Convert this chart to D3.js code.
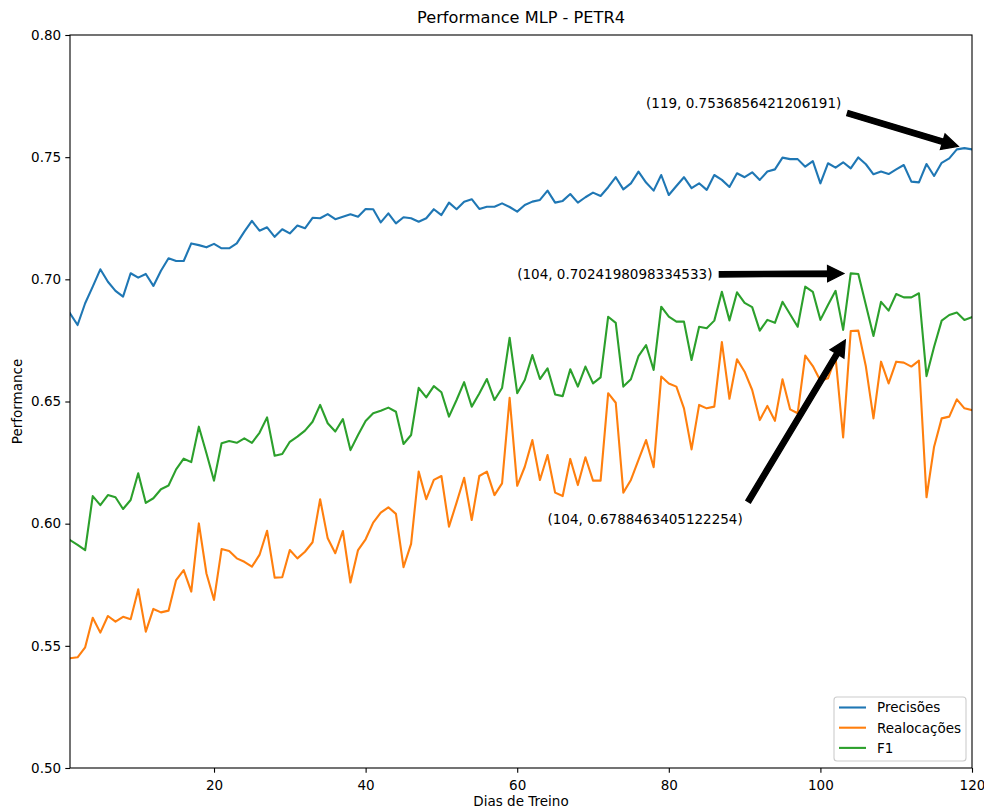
<!DOCTYPE html>
<html>
<head>
<meta charset="utf-8">
<script src="https://cdn.jsdelivr.net/npm/d3@7"></script>
<style>
  html, body { margin: 0; padding: 0; background: #ffffff; }
  svg { display: block; font-family: "DejaVu Sans", sans-serif; }
</style>
</head>
<body>
<svg id="chart" width="984" height="810"></svg>
<script>
// Training days 1..120
const days = d3.range(1, 121);

const precisoes = [
  0.6861, 0.6813, 0.6902, 0.6970, 0.7041, 0.6990, 0.6953, 0.6929, 0.7025, 0.7007,
  0.7022, 0.6973, 0.7035, 0.7086, 0.7075, 0.7075, 0.7147, 0.7140, 0.7131, 0.7145,
  0.7127, 0.7127, 0.7147, 0.7195, 0.7239, 0.7199, 0.7213, 0.7174, 0.7205, 0.7188,
  0.7220, 0.7209, 0.7252, 0.7250, 0.7267, 0.7246, 0.7256, 0.7266, 0.7256, 0.7288,
  0.7287, 0.7233, 0.7270, 0.7229, 0.7254, 0.7250, 0.7236, 0.7250, 0.7287, 0.7263,
  0.7314, 0.7287, 0.7318, 0.7328, 0.7288, 0.7297, 0.7297, 0.7311, 0.7296, 0.7277,
  0.7304, 0.7318, 0.7325, 0.7363, 0.7314, 0.7321, 0.7349, 0.7314, 0.7336, 0.7355,
  0.7341, 0.7377, 0.7418, 0.7368, 0.7393, 0.7441, 0.7396, 0.7363, 0.7427, 0.7345,
  0.7382, 0.7418, 0.7373, 0.7393, 0.7366, 0.7427, 0.7407, 0.7378, 0.7434, 0.7418,
  0.7438, 0.7407, 0.7441, 0.7450, 0.7498, 0.7492, 0.7492, 0.7461, 0.7484, 0.7393,
  0.7475, 0.7457, 0.7479, 0.7454, 0.7499, 0.7471, 0.7430, 0.7441, 0.7431, 0.7450,
  0.7468, 0.7400, 0.7397, 0.7472, 0.7423, 0.7477, 0.7495, 0.7532, 0.7536856421206191, 0.7532
];

const realocacoes = [
  0.5449, 0.5453, 0.5494, 0.5615, 0.5554, 0.5622, 0.5599, 0.5619, 0.5609, 0.5731,
  0.5558, 0.5651, 0.5637, 0.5644, 0.5769, 0.5810, 0.5722, 0.6001, 0.5796, 0.5688,
  0.5896, 0.5888, 0.5858, 0.5844, 0.5824, 0.5872, 0.5971, 0.5779, 0.5781, 0.5892,
  0.5858, 0.5885, 0.5924, 0.6100, 0.5940, 0.5879, 0.5970, 0.5759, 0.5892, 0.5936,
  0.6004, 0.6045, 0.6067, 0.6040, 0.5822, 0.5917, 0.6213, 0.6100, 0.6179, 0.6195,
  0.5988, 0.6086, 0.6188, 0.6015, 0.6195, 0.6213, 0.6117, 0.6165, 0.6515, 0.6155,
  0.6233, 0.6342, 0.6179, 0.6281, 0.6127, 0.6113, 0.6265, 0.6158, 0.6272, 0.6176,
  0.6176, 0.6534, 0.6495, 0.6127, 0.6179, 0.6261, 0.6342, 0.6231, 0.6602, 0.6574,
  0.6561, 0.6472, 0.6304, 0.6486, 0.6472, 0.6479, 0.6743, 0.6511, 0.6673, 0.6622,
  0.6547, 0.6424, 0.6482, 0.6421, 0.6591, 0.6468, 0.6452, 0.6688, 0.6645, 0.6585,
  0.6595, 0.6681, 0.6353, 0.6788463405122254, 0.6790, 0.6643, 0.6431, 0.6663, 0.6574, 0.6663,
  0.6659, 0.6643, 0.6667, 0.6108, 0.6315, 0.6431, 0.6438, 0.6509, 0.6472, 0.6465
];

const f1 = [
  0.5933, 0.5913, 0.5892, 0.6113, 0.6076, 0.6117, 0.6108, 0.6060, 0.6097, 0.6206,
  0.6085, 0.6104, 0.6141, 0.6156, 0.6222, 0.6266, 0.6252, 0.6397, 0.6288, 0.6176,
  0.6329, 0.6338, 0.6331, 0.6349, 0.6331, 0.6372, 0.6435, 0.6278, 0.6285, 0.6335,
  0.6356, 0.6381, 0.6417, 0.6486, 0.6411, 0.6377, 0.6428, 0.6301, 0.6363, 0.6420,
  0.6452, 0.6462, 0.6475, 0.6458, 0.6326, 0.6363, 0.6556, 0.6517, 0.6563, 0.6538,
  0.6438, 0.6506, 0.6579, 0.6479, 0.6533, 0.6592, 0.6506, 0.6555, 0.6761, 0.6534,
  0.6588, 0.6690, 0.6592, 0.6636, 0.6529, 0.6522, 0.6632, 0.6561, 0.6643, 0.6574,
  0.6599, 0.6847, 0.6822, 0.6561, 0.6591, 0.6686, 0.6731, 0.6629, 0.6888, 0.6847,
  0.6827, 0.6827, 0.6670, 0.6806, 0.6800, 0.6831, 0.6949, 0.6832, 0.6947, 0.6904,
  0.6886, 0.6790, 0.6834, 0.6822, 0.6908, 0.6857, 0.6806, 0.6970, 0.6949, 0.6834,
  0.6895, 0.6953, 0.6793, 0.7024198098334533, 0.7022, 0.6895, 0.6768, 0.6908, 0.6872, 0.6940,
  0.6926, 0.6926, 0.6943, 0.6604, 0.6724, 0.6831, 0.6854, 0.6864, 0.6834, 0.6845
];

const seriesNames = ["Precisões", "Realocações", "F1"];
const seriesColors = ["#1f77b4", "#ff7f0e", "#2ca02c"];
const xTicks = [20, 40, 60, 80, 100, 120];
const yTicks = [0.50, 0.55, 0.60, 0.65, 0.70, 0.75, 0.80];

// Annotated points: day, series index, and text anchor in data units
const notes = [
  { day: 119, series: 0, tx: 77, ty: 0.77 },
  { day: 104, series: 2, tx: 60, ty: 0.70 },
  { day: 104, series: 1, tx: 64, ty: 0.60 }
];

const allSeries = [precisoes, realocacoes, f1];

const svg = d3.select("#chart");
const plotLeft = 70, plotRight = 972, plotTop = 35, plotBottom = 768;

const x = d3.scaleLinear().domain([1, 120]).range([plotLeft, plotRight]);
const y = d3.scaleLinear().domain([0.50, 0.80]).range([plotBottom, plotTop]);

const fontSize = 13.5;
const ink = "#000000";

// Series lines
const line = d3.line()
  .x((d, i) => x(days[i]))
  .y(d => y(d));

const plot = svg.append("g");
plot.append("clipPath").attr("id", "plotclip")
  .append("rect").attr("x", plotLeft).attr("y", plotTop)
  .attr("width", plotRight - plotLeft).attr("height", plotBottom - plotTop);

allSeries.forEach((vals, k) => {
  plot.append("path")
    .datum(vals)
    .attr("clip-path", "url(#plotclip)")
    .attr("fill", "none")
    .attr("stroke", seriesColors[k])
    .attr("stroke-width", 2.1)
    .attr("stroke-linejoin", "round")
    .attr("stroke-linecap", "square")
    .attr("d", line);
});

// Axes
const xAxis = d3.axisBottom(x).tickValues(xTicks).tickSize(4.7).tickPadding(4.2)
  .tickFormat(d3.format("d"));
const yAxis = d3.axisLeft(y).tickValues(yTicks).tickSize(4.7).tickPadding(4.2)
  .tickFormat(d3.format(".2f"));

const gx = svg.append("g").attr("transform", `translate(0,${plotBottom})`).call(xAxis);
const gy = svg.append("g").attr("transform", `translate(${plotLeft},0)`).call(yAxis);
[gx, gy].forEach(g => {
  g.select(".domain").remove();
  g.selectAll(".tick line").attr("stroke", ink).attr("stroke-width", 1.1);
  g.selectAll(".tick text")
    .attr("fill", ink)
    .style("font-family", "DejaVu Sans")
    .style("font-size", fontSize + "px");
});
gx.selectAll(".tick text").attr("dy", "0.95em");

// Frame around plot area
svg.append("rect")
  .attr("x", plotLeft).attr("y", plotTop)
  .attr("width", plotRight - plotLeft).attr("height", plotBottom - plotTop)
  .attr("fill", "none").attr("stroke", ink).attr("stroke-width", 1.1);

// Title and axis labels
svg.append("text")
  .attr("x", (plotLeft + plotRight) / 2).attr("y", 23)
  .attr("text-anchor", "middle")
  .style("font-size", "16.2px").attr("fill", ink)
  .text("Performance MLP - PETR4");

svg.append("text")
  .attr("x", (plotLeft + plotRight) / 2).attr("y", 806)
  .attr("text-anchor", "middle")
  .style("font-size", fontSize + "px").attr("fill", ink)
  .text("Dias de Treino");

svg.append("text")
  .attr("transform", `translate(22,${(plotTop + plotBottom) / 2}) rotate(-90)`)
  .attr("text-anchor", "middle")
  .style("font-size", fontSize + "px").attr("fill", ink)
  .text("Performance");

// Annotations with filled arrows pointing at the marked values
const shaftW = 5.4, headW = 16.2, headL = 16.2, shrink = 0.05;
notes.forEach(n => {
  const val = allSeries[n.series][n.day - 1];
  const txt = svg.append("text")
    .attr("x", x(n.tx)).attr("y", y(n.ty))
    .style("font-size", fontSize + "px").attr("fill", ink)
    .text(`(${n.day}, ${val})`);
  const bb = txt.node().getBBox();
  const px = x(n.day), py = y(val);
  const xs = [bb.x, bb.x + bb.width / 2, bb.x + bb.width];
  const ys = [bb.y, bb.y + bb.height / 2, bb.y + bb.height];
  const sx0 = xs.reduce((a, b) => Math.abs(b - px) < Math.abs(a - px) ? b : a);
  const sy0 = ys.reduce((a, b) => Math.abs(b - py) < Math.abs(a - py) ? b : a);
  const dx = px - sx0, dy = py - sy0;
  const sx = sx0 + dx * shrink, sy = sy0 + dy * shrink;
  const ex = px - dx * shrink, ey = py - dy * shrink;
  const len = Math.hypot(ex - sx, ey - sy);
  const ux = (ex - sx) / len, uy = (ey - sy) / len;
  const nx = -uy, ny = ux;
  const bx = ex - ux * headL, by = ey - uy * headL;
  const pts = [
    [sx + nx * shaftW / 2, sy + ny * shaftW / 2],
    [bx + nx * shaftW / 2, by + ny * shaftW / 2],
    [bx + nx * headW / 2, by + ny * headW / 2],
    [ex, ey],
    [bx - nx * headW / 2, by - ny * headW / 2],
    [bx - nx * shaftW / 2, by - ny * shaftW / 2],
    [sx - nx * shaftW / 2, sy - ny * shaftW / 2]
  ];
  svg.append("polygon")
    .attr("points", pts.map(p => p.join(",")).join(" "))
    .attr("fill", ink).attr("stroke", ink)
    .attr("stroke-width", 1.3).attr("stroke-linejoin", "miter");
});

// Legend, lower right
const lg = svg.append("g");
lg.append("rect")
  .attr("x", 834).attr("y", 697).attr("width", 132).attr("height", 64)
  .attr("rx", 3).attr("ry", 3)
  .attr("fill", "#ffffff").attr("fill-opacity", 0.8)
  .attr("stroke", "#cccccc").attr("stroke-width", 1.1);
seriesNames.forEach((name, k) => {
  const ly = 707.5 + k * 20.2;
  lg.append("line")
    .attr("x1", 839).attr("x2", 866).attr("y1", ly).attr("y2", ly)
    .attr("stroke", seriesColors[k]).attr("stroke-width", 2.1);
  lg.append("text")
    .attr("x", 877).attr("y", ly + 4.8)
    .style("font-size", fontSize + "px").attr("fill", ink)
    .text(name);
});
</script>
</body>
</html>
